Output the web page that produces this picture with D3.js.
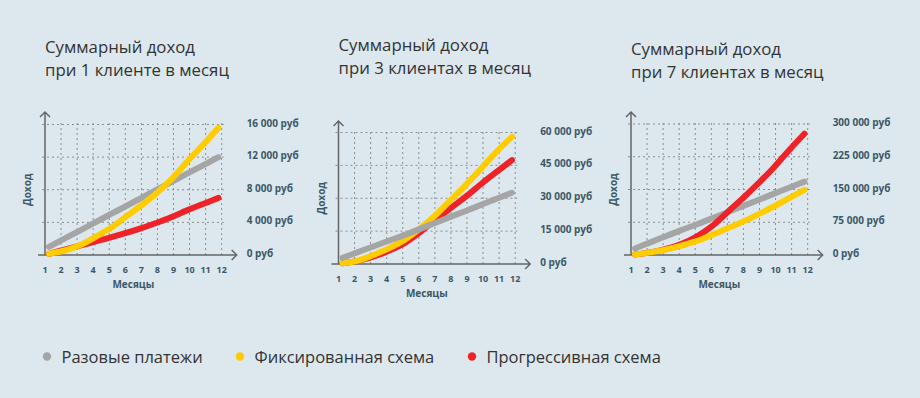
<!DOCTYPE html>
<html>
<head>
<meta charset="utf-8">
<script src="https://cdn.jsdelivr.net/npm/d3@7"></script>
<style>
  body { margin: 0; background: #dce8ee; }
  svg { display: block; font-family: "Open Sans", sans-serif; }
  .title { font-size: 16.8px; fill: #333; }
  .lbl { font-size: 10px; font-weight: bold; fill: #3b5866; }
  .legend { font-size: 16.5px; fill: #333; }
</style>
</head>
<body>
<div id="chart"></div>
<script>
const width = 920;
const height = 398;

const months = [1, 2, 3, 4, 5, 6, 7, 8, 9, 10, 11, 12];
const seriesNames = ["Разовые платежи", "Фиксированная схема", "Прогрессивная схема"];
const seriesColors = ["#a5a5a5", "#ffcc00", "#ee2227"];

// 1 client
const once1 = [1000, 2000, 3000, 4000, 5000, 6000, 7000, 8000, 9000, 10000, 11000, 12000];
const fixed1 = [150, 550, 1200, 2200, 3300, 4700, 6100, 7600, 9400, 11500, 13500, 15600];
const progr1 = [150, 650, 1150, 1650, 2150, 2700, 3300, 3950, 4700, 5500, 6250, 7000];
const ticks1 = [0, 4000, 8000, 12000, 16000];

// 3 clients
const once3 = [2800, 5400, 8000, 10600, 13200, 15900, 18700, 21500, 24200, 27000, 29800, 32500];
const fixed3 = [300, 1500, 4100, 7150, 10900, 16000, 22000, 29000, 36000, 43600, 51200, 58000];
const progr3 = [300, 1400, 3300, 6000, 9400, 14300, 20000, 25400, 30700, 36500, 42000, 47400];
const ticks3 = [0, 15000, 30000, 45000, 60000];

// 7 clients
const once7 = [15000, 29000, 43000, 57000, 70000, 84000, 98000, 112000, 126000, 140000, 154000, 168000];
const fixed7 = [1000, 6000, 12500, 21500, 32000, 46000, 61000, 76000, 93000, 111000, 130000, 149000];
const progr7 = [1000, 6000, 14000, 25000, 42000, 66000, 98000, 130000, 164000, 200000, 240000, 278000];
const ticks7 = [0, 75000, 150000, 225000, 300000];

const titles = [
    ["Суммарный доход", "при 1 клиенте в месяц"],
    ["Суммарный доход", "при 3 клиентах в месяц"],
    ["Суммарный доход", "при 7 клиентах в месяц"]
];

const fmt = v => d3.format(",")(v).replace(/,/g, " ") + " руб";

// panel layout: axis origin, top grid line, title baseline, draw order of series
const panels = [
    { x0: 45, y0: 255, yTop: 124.5, ty: 53, data: [once1, fixed1, progr1], ticks: ticks1, order: [2, 0, 1] },
    { x0: 338.5, y0: 264, yTop: 132.5, ty: 51, data: [once3, fixed3, progr3], ticks: ticks3, order: [2, 1, 0] },
    { x0: 631, y0: 255, yTop: 124, ty: 55, data: [once7, fixed7, progr7], ticks: ticks7, order: [0, 2, 1] }
];
const step = 16.06;

const svg = d3.select("#chart").append("svg")
    .attr("width", width)
    .attr("height", height);

panels.forEach((p, i) => {
    const g = svg.append("g");
    const x = d3.scaleLinear().domain([1, 12]).range([p.x0, p.x0 + 11 * step]);
    const xl = d3.scaleLinear().domain([1, 12]).range([x(1.25), x(11.8)]);
    const y = d3.scaleLinear().domain([0, d3.max(p.ticks)]).range([p.y0, p.yTop]);

    // title
    g.append("text").attr("class", "title")
        .selectAll("tspan")
        .data(titles[i])
        .join("tspan")
        .attr("x", p.x0)
        .attr("y", (d, k) => p.ty + k * 23)
        .text(d => d);

    // grid
    g.append("g").selectAll("line")
        .data(p.ticks.slice(1))
        .join("line")
        .attr("x1", p.x0 - 3).attr("x2", x(12) + 2)
        .attr("y1", d => y(d)).attr("y2", d => y(d))
        .attr("stroke", "#8c8c8c").attr("stroke-width", 1)
        .attr("stroke-dasharray", "2,3");
    g.append("g").selectAll("line")
        .data(months.slice(1))
        .join("line")
        .attr("x1", d => x(d)).attr("x2", d => x(d))
        .attr("y1", p.y0).attr("y2", p.yTop - 2)
        .attr("stroke", "#8c8c8c").attr("stroke-width", 1)
        .attr("stroke-dasharray", "2,3");

    // axes with arrows
    const axisColor = "#666";
    const xEnd = x(12) + 15;
    const yEnd = p.y0 - 143;
    g.append("path")
        .attr("d", `M${p.x0 - 7},${p.y0}H${xEnd}M${xEnd - 5},${p.y0 - 5}L${xEnd},${p.y0}L${xEnd - 5},${p.y0 + 5}`)
        .attr("fill", "none").attr("stroke", axisColor).attr("stroke-width", 1.5);
    g.append("path")
        .attr("d", `M${p.x0},${p.y0}V${yEnd}M${p.x0 - 5},${yEnd + 5}L${p.x0},${yEnd}L${p.x0 + 5},${yEnd + 5}`)
        .attr("fill", "none").attr("stroke", axisColor).attr("stroke-width", 1.5);

    // month labels
    g.append("g").selectAll("text")
        .data(months)
        .join("text")
        .attr("class", "lbl")
        .style("font-size", "9px")
        .attr("x", d => x(d))
        .attr("y", p.y0 + 18)
        .attr("text-anchor", "middle")
        .text(d => d);

    g.append("text").attr("class", "lbl")
        .attr("x", (x(1) + x(12)) / 2)
        .attr("y", p.y0 + 33)
        .attr("text-anchor", "middle")
        .text("Месяцы");

    g.append("text").attr("class", "lbl")
        .attr("transform", `translate(${p.x0 - 14},${(p.y0 + p.yTop) / 2}) rotate(-90)`)
        .attr("text-anchor", "middle")
        .text("Доход");

    // value labels on the right
    g.append("g").selectAll("text")
        .data(p.ticks)
        .join("text")
        .attr("class", "lbl")
        .attr("x", x(12) + 25)
        .attr("y", d => y(d) + 2)
        .text(fmt);

    // series
    const line = d3.line()
        .x((d, k) => xl(months[k]))
        .y(d => y(d))
        .curve(d3.curveMonotoneX);
    p.order.forEach(s => {
        g.append("path")
            .attr("d", line(p.data[s]))
            .attr("fill", "none")
            .attr("stroke", seriesColors[s])
            .attr("stroke-width", 6)
            .attr("stroke-linecap", "round");
    });
});

// legend
const legendX = [47, 240, 472];
const legend = svg.append("g").selectAll("g")
    .data(seriesNames)
    .join("g")
    .attr("transform", (d, i) => `translate(${legendX[i]},356.5)`);
legend.append("circle").attr("r", 4.2).attr("fill", (d, i) => seriesColors[i]);
legend.append("text").attr("class", "legend")
    .attr("x", 14.5).attr("y", 6)
    .text(d => d);
</script>
</body>
</html>
